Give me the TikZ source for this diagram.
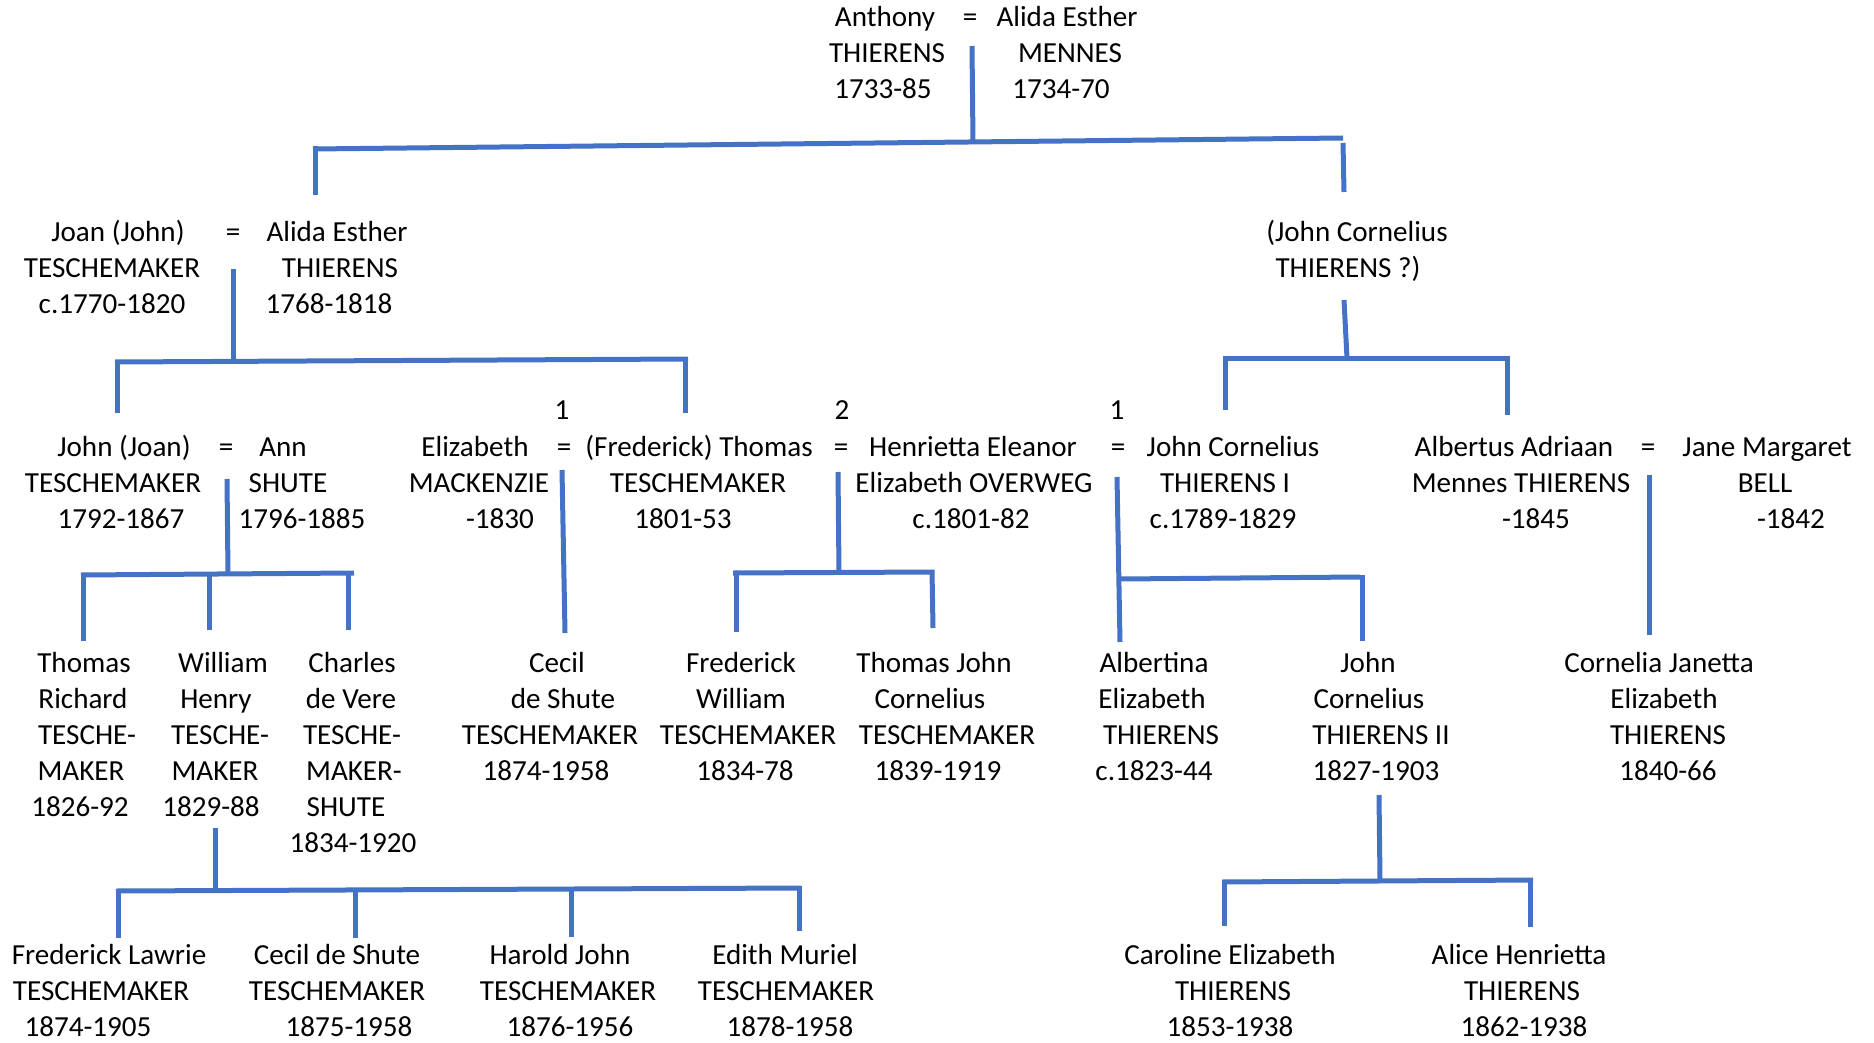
\documentclass[tikz,border=0pt]{standalone}
\usepackage{fontspec}
\setmainfont{Carlito}
\definecolor{linkblue}{HTML}{4472C4}
\newcommand{\tl}[4]{\node[txt] (#1) at (#2,#3) {#4};}
\begin{document}
\begin{tikzpicture}[x=1pt,y=-1pt,
  txt/.style={anchor=base,inner sep=0pt,outer sep=0pt,font=\fontsize{29.1}{36}\selectfont,text=black},
  link/.style={draw=linkblue,line width=5pt}]
\useasboundingbox (0,0) rectangle (1874,1043);
% ---------- Row 1
\tl{a1}{885}{27}{Anthony}
\tl{a2}{887}{63}{THIERENS}
\tl{a3}{883}{99}{1733-85}
\tl{aeq}{970}{27}{=}
\tl{b1}{1067}{27}{Alida Esther}
\tl{b2}{1070}{63}{MENNES}
\tl{b3}{1061}{99}{1734-70}
% ---------- Row 2
\tl{c1}{118}{241}{Joan (John)}
\tl{c2}{112}{277}{TESCHEMAKER}
\tl{c3}{112}{313}{c.1770-1820}
\tl{ceq}{233}{241}{=}
\tl{d1}{337}{241}{Alida Esther}
\tl{d2}{340}{277}{THIERENS}
\tl{d3}{329}{313}{1768-1818}
\tl{e1}{1357}{241}{(John Cornelius}
\tl{e2}{1348}{277}{THIERENS ?)}
% ---------- Row 3
\tl{f1}{124}{456}{John (Joan)}
\tl{f2}{113}{492}{TESCHEMAKER}
\tl{f3}{121}{528}{1792-1867}
\tl{feq}{226}{456}{=}
\tl{g1}{283}{456}{Ann}
\tl{g2}{288}{492}{SHUTE}
\tl{g3}{302}{528}{1796-1885}
\tl{h1}{475}{456}{Elizabeth}
\tl{h2}{479}{492}{MACKENZIE}
\tl{h3}{500}{528}{-1830}
\tl{hn}{562}{419}{1}
\tl{heq}{564}{456}{=}
\tl{i1}{699}{456}{(Frederick) Thomas}
\tl{i2}{698}{492}{TESCHEMAKER}
\tl{i3}{683}{528}{1801-53}
\tl{jn}{842}{419}{2}
\tl{jeq}{841}{456}{=}
\tl{j1}{973}{456}{Henrietta Eleanor}
\tl{j2}{974}{492}{Elizabeth OVERWEG}
\tl{j3}{971}{528}{c.1801-82}
\tl{kn}{1117}{419}{1}
\tl{keq}{1118}{456}{=}
\tl{k1}{1233}{456}{John Cornelius}
\tl{k2}{1225}{492}{THIERENS I}
\tl{k3}{1223}{528}{c.1789-1829}
\tl{l1}{1514}{456}{Albertus Adriaan}
\tl{l2}{1521}{492}{Mennes THIERENS}
\tl{l3}{1536}{528}{-1845}
\tl{leq}{1648}{456}{=}
\tl{m1}{1767}{456}{Jane Margaret}
\tl{m2}{1765}{492}{BELL}
\tl{m3}{1791}{528}{-1842}
% ---------- Row 4
\tl{n1}{84}{672}{Thomas}
\tl{n2}{83}{708}{Richard}
\tl{n3}{87}{744}{TESCHE-}
\tl{n4}{81}{780}{MAKER}
\tl{n5}{80}{816}{1826-92}
\tl{o1}{223}{672}{William}
\tl{o2}{216}{708}{Henry}
\tl{o3}{220}{744}{TESCHE-}
\tl{o4}{215}{780}{MAKER}
\tl{o5}{211}{816}{1829-88}
\tl{p1}{352}{672}{Charles}
\tl{p2}{351}{708}{de Vere}
\tl{p3}{352}{744}{TESCHE-}
\tl{p4}{354}{780}{MAKER-}
\tl{p5}{346}{816}{SHUTE}
\tl{p6}{353}{852}{1834-1920}
\tl{q1}{557}{672}{Cecil}
\tl{q2}{563}{708}{de Shute}
\tl{q3}{550}{744}{TESCHEMAKER}
\tl{q4}{546}{780}{1874-1958}
\tl{r1}{741}{672}{Frederick}
\tl{r2}{741}{708}{William}
\tl{r3}{748}{744}{TESCHEMAKER}
\tl{r4}{745}{780}{1834-78}
\tl{s1}{934}{672}{Thomas John}
\tl{s2}{930}{708}{Cornelius}
\tl{s3}{947}{744}{TESCHEMAKER}
\tl{s4}{938}{780}{1839-1919}
\tl{t1}{1154}{672}{Albertina}
\tl{t2}{1152}{708}{Elizabeth}
\tl{t3}{1161}{744}{THIERENS}
\tl{t4}{1154}{780}{c.1823-44}
\tl{u1}{1368}{672}{John}
\tl{u2}{1369}{708}{Cornelius}
\tl{u3}{1381}{744}{THIERENS II}
\tl{u4}{1376}{780}{1827-1903}
\tl{v1}{1659}{672}{Cornelia Janetta}
\tl{v2}{1664}{708}{Elizabeth}
\tl{v3}{1668}{744}{THIERENS}
\tl{v4}{1668}{780}{1840-66}
% ---------- Row 5
\tl{w1}{109}{964}{Frederick Lawrie}
\tl{w2}{101}{1000}{TESCHEMAKER}
\tl{w3}{88}{1036}{1874-1905}
\tl{x1}{337}{964}{Cecil de Shute}
\tl{x2}{337}{1000}{TESCHEMAKER}
\tl{x3}{349}{1036}{1875-1958}
\tl{y1}{560}{964}{Harold John}
\tl{y2}{568}{1000}{TESCHEMAKER}
\tl{y3}{570}{1036}{1876-1956}
\tl{z1}{785}{964}{Edith Muriel}
\tl{z2}{786}{1000}{TESCHEMAKER}
\tl{z3}{790}{1036}{1878-1958}
\tl{ca1}{1230}{964}{Caroline Elizabeth}
\tl{ca2}{1233}{1000}{THIERENS}
\tl{ca3}{1230}{1036}{1853-1938}
\tl{al1}{1519}{964}{Alice Henrietta}
\tl{al2}{1522}{1000}{THIERENS}
\tl{al3}{1524}{1036}{1862-1938}
% ---------- connector coordinates
% C1 Anthony = Alida
\coordinate (c1t) at (972,46);   \coordinate (c1b) at (973,142);
\coordinate (c1l) at (313,149);  \coordinate (c1r) at (1343,138);
\coordinate (c1la) at (315,146); \coordinate (c1lb) at (315,195);
\coordinate (c1ra) at (1343,143);\coordinate (c1rb) at (1344,192);
% C2 Joan = Alida
\coordinate (c2t) at (233,269);  \coordinate (c2b) at (233,360);
\coordinate (c2l) at (115,362);  \coordinate (c2r) at (688,359);
\coordinate (c2la) at (117,360); \coordinate (c2lb) at (117,413);
\coordinate (c2ra) at (685,357); \coordinate (c2rb) at (685,413);
% C3 (John Cornelius ?)
\coordinate (c3t) at (1344,300); \coordinate (c3b) at (1347,358);
\coordinate (c3l) at (1223,358); \coordinate (c3r) at (1510,358);
\coordinate (c3la) at (1225,356);\coordinate (c3lb) at (1225,410);
\coordinate (c3ra) at (1507,356);\coordinate (c3rb) at (1507,415);
% C4 John = Ann
\coordinate (c4t) at (227,479);  \coordinate (c4b) at (228,574);
\coordinate (c4l) at (81,575);   \coordinate (c4r) at (354,573);
\coordinate (c4aa) at (83,573);  \coordinate (c4ab) at (83,641);
\coordinate (c4ba) at (209,573); \coordinate (c4bb) at (209,630);
\coordinate (c4ca) at (348,571); \coordinate (c4cb) at (348,630);
% C5 Elizabeth = Thomas
\coordinate (c5t) at (562,470);  \coordinate (c5b) at (565,633);
% C6 Thomas = Henrietta
\coordinate (c6t) at (838,472);  \coordinate (c6b) at (839,573);
\coordinate (c6l) at (733,573);  \coordinate (c6r) at (934,572);
\coordinate (c6la) at (736,571); \coordinate (c6lb) at (736,632);
\coordinate (c6ra) at (932,570); \coordinate (c6rb) at (933,628);
% C7 Henrietta = John Cornelius I
\coordinate (c7t) at (1117,477); \coordinate (c7b) at (1120,642);
\coordinate (c7l) at (1120,579); \coordinate (c7r) at (1360,577);
\coordinate (c7ra) at (1362,575);\coordinate (c7rb) at (1362,641);
% C8 Albertus = Jane
\coordinate (c8t) at (1649,475); \coordinate (c8b) at (1649,635);
% C9 William Henry
\coordinate (c9t) at (215,828);  \coordinate (c9b) at (215,890);
\coordinate (c9l) at (116,891);  \coordinate (c9r) at (801,888);
\coordinate (c9aa) at (118,889); \coordinate (c9ab) at (118,938);
\coordinate (c9ba) at (355,888); \coordinate (c9bb) at (355,938);
\coordinate (c9ca) at (571,887); \coordinate (c9cb) at (571,937);
\coordinate (c9da) at (799,886); \coordinate (c9db) at (799,931);
% C10 John Cornelius II
\coordinate (c10t) at (1379,795); \coordinate (c10b) at (1380,880);
\coordinate (c10l) at (1222,882); \coordinate (c10r) at (1533,880);
\coordinate (c10la) at (1224,880);\coordinate (c10lb) at (1224,926);
\coordinate (c10ra) at (1530,878);\coordinate (c10rb) at (1530,927);
% ---------- connectors
\draw[link] (c1t) -- (c1b);  \draw[link] (c1l) -- (c1r);
\draw[link] (c1la) -- (c1lb); \draw[link] (c1ra) -- (c1rb);
\draw[link] (c2t) -- (c2b);  \draw[link] (c2l) -- (c2r);
\draw[link] (c2la) -- (c2lb); \draw[link] (c2ra) -- (c2rb);
\draw[link] (c3t) -- (c3b);  \draw[link] (c3l) -- (c3r);
\draw[link] (c3la) -- (c3lb); \draw[link] (c3ra) -- (c3rb);
\draw[link] (c4t) -- (c4b);  \draw[link] (c4l) -- (c4r);
\draw[link] (c4aa) -- (c4ab); \draw[link] (c4ba) -- (c4bb); \draw[link] (c4ca) -- (c4cb);
\draw[link] (c5t) -- (c5b);
\draw[link] (c6t) -- (c6b);  \draw[link] (c6l) -- (c6r);
\draw[link] (c6la) -- (c6lb); \draw[link] (c6ra) -- (c6rb);
\draw[link] (c7t) -- (c7b);  \draw[link] (c7l) -- (c7r);
\draw[link] (c7ra) -- (c7rb);
\draw[link] (c8t) -- (c8b);
\draw[link] (c9t) -- (c9b);  \draw[link] (c9l) -- (c9r);
\draw[link] (c9aa) -- (c9ab); \draw[link] (c9ba) -- (c9bb);
\draw[link] (c9ca) -- (c9cb); \draw[link] (c9da) -- (c9db);
\draw[link] (c10t) -- (c10b); \draw[link] (c10l) -- (c10r);
\draw[link] (c10la) -- (c10lb); \draw[link] (c10ra) -- (c10rb);
\end{tikzpicture}
\end{document}
